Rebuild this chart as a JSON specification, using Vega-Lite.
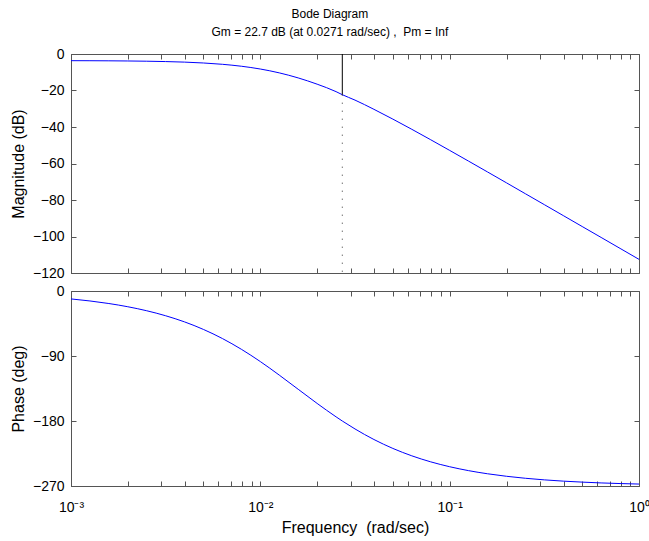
{
  "$schema": "https://vega.github.io/schema/vega-lite/v6.json",
  "background": "white",
  "padding": {"left": 9, "top": 7, "right": 5, "bottom": 5},
  "title": {
    "text": "Bode Diagram",
    "subtitle": "Gm = 22.7 dB (at 0.0271 rad/sec) ,\u00a0 Pm = Inf",
    "font": "Liberation Sans", "subtitleFont": "Liberation Sans",
    "fontSize": 12, "subtitleFontSize": 12, "fontWeight": "normal",
    "color": "black", "subtitleColor": "black",
    "anchor": "middle", "offset": 8, "subtitlePadding": 6
  },
  "config": {
    "view": {"stroke": "#555555", "strokeWidth": 1},
    "axis": {
      "labelFont": "Liberation Sans", "titleFont": "Liberation Sans",
      "labelFontSize": 14, "titleFontSize": 16, "titleFontWeight": "normal",
      "labelColor": "black", "titleColor": "black",
      "domainColor": "#555555", "tickColor": "#555555",
      "grid": false, "tickSize": -5, "labelFlush": false, "labelOverlap": false, "labelBound": false
    }
  },
  "datasets": {
    "bode": [
      {"w": 0.001, "mag": -3.66, "phase": -10.97},
      {"w": 0.001259, "mag": -3.69, "phase": -13.79},
      {"w": 0.001585, "mag": -3.74, "phase": -17.35},
      {"w": 0.001995, "mag": -3.82, "phase": -21.79},
      {"w": 0.002512, "mag": -3.95, "phase": -27.35},
      {"w": 0.003162, "mag": -4.15, "phase": -34.27},
      {"w": 0.003981, "mag": -4.45, "phase": -42.81},
      {"w": 0.005012, "mag": -4.93, "phase": -53.27},
      {"w": 0.00631, "mag": -5.65, "phase": -65.87},
      {"w": 0.007943, "mag": -6.71, "phase": -80.72},
      {"w": 0.01, "mag": -8.23, "phase": -97.72},
      {"w": 0.012589, "mag": -10.34, "phase": -116.44},
      {"w": 0.015849, "mag": -13.1, "phase": -136.08},
      {"w": 0.019953, "mag": -16.54, "phase": -155.67},
      {"w": 0.025119, "mag": -20.63, "phase": -174.24},
      {"w": 0.0271, "mag": -22.3, "phase": -180.0},
      {"w": 0.031623, "mag": -25.26, "phase": -191.01},
      {"w": 0.039811, "mag": -30.31, "phase": -205.62},
      {"w": 0.050119, "mag": -35.68, "phase": -217.98},
      {"w": 0.063096, "mag": -41.26, "phase": -228.21},
      {"w": 0.079433, "mag": -46.99, "phase": -236.56},
      {"w": 0.1, "mag": -52.82, "phase": -243.31},
      {"w": 0.125893, "mag": -58.71, "phase": -248.74},
      {"w": 0.158489, "mag": -64.64, "phase": -253.08},
      {"w": 0.199526, "mag": -70.59, "phase": -256.54},
      {"w": 0.251189, "mag": -76.57, "phase": -259.3},
      {"w": 0.316228, "mag": -82.55, "phase": -261.5},
      {"w": 0.398107, "mag": -88.54, "phase": -263.25},
      {"w": 0.501187, "mag": -94.53, "phase": -264.63},
      {"w": 0.630957, "mag": -100.52, "phase": -265.74},
      {"w": 0.794328, "mag": -106.52, "phase": -266.61},
      {"w": 1.0, "mag": -112.52, "phase": -267.31}
    ],
    "margin": [
      {"w": 0.0271, "y1": 0, "y2": -22.3, "style": "solid"},
      {"w": 0.0271, "y1": -22.3, "y2": -120, "style": "dotted"}
    ]
  },
  "spacing": 2,
  "vconcat": [
    {
      "width": 568, "height": 219,
      "layer": [
        {
          "data": {"name": "bode"},
          "mark": {"type": "line", "color": "#0000ff", "strokeWidth": 1, "interpolate": "monotone", "clip": true},
          "encoding": {
            "x": {"field": "w", "type": "quantitative",
              "scale": {"type": "log", "domain": [0.001, 1], "nice": false},
              "axis": {"orient": "bottom", "title": null, "labels": false, "minExtent": 0, "maxExtent": 0,
                "values": [0.001,0.002,0.003,0.004,0.005,0.006,0.007,0.008,0.009,0.01,0.02,0.03,0.04,0.05,0.06,0.07,0.08,0.09,0.1,0.2,0.3,0.4,0.5,0.6,0.7,0.8,0.9,1]}},
            "y": {"field": "mag", "type": "quantitative",
              "scale": {"domain": [-120, 0], "nice": false, "zero": false},
              "axis": {"orient": "left", "title": "Magnitude (dB)", "labelPadding": 12, "titlePadding": 6, "values": [0,-20,-40,-60,-80,-100,-120]}}
          }
        },
        {
          "data": {"name": "bode"},
          "mark": {"type": "line", "strokeOpacity": 0},
          "encoding": {
            "x": {"field": "w", "type": "quantitative",
              "scale": {"type": "log", "domain": [0.001, 1], "nice": false},
              "axis": {"orient": "top", "title": null, "labels": false, "domain": false, "minExtent": 0, "maxExtent": 0,
                "values": [0.001,0.002,0.003,0.004,0.005,0.006,0.007,0.008,0.009,0.01,0.02,0.03,0.04,0.05,0.06,0.07,0.08,0.09,0.1,0.2,0.3,0.4,0.5,0.6,0.7,0.8,0.9,1]}},
            "y": {"field": "mag", "type": "quantitative",
              "scale": {"domain": [-120, 0], "nice": false, "zero": false},
              "axis": {"orient": "right", "title": null, "labels": false, "domain": false, "minExtent": 0, "maxExtent": 0, "values": [0,-20,-40,-60,-80,-100,-120]}}
          }
        },
        {
          "data": {"name": "margin"},
          "transform": [{"filter": "datum.style == 'solid'"}],
          "mark": {"type": "rule", "color": "black", "strokeWidth": 1},
          "encoding": {
            "x": {"field": "w", "type": "quantitative", "axis": null},
            "y": {"field": "y1", "type": "quantitative", "axis": null},
            "y2": {"field": "y2"}
          }
        },
        {
          "data": {"name": "margin"},
          "transform": [{"filter": "datum.style == 'dotted'"}],
          "mark": {"type": "rule", "color": "#333333", "strokeWidth": 1, "strokeDash": [1, 7]},
          "encoding": {
            "x": {"field": "w", "type": "quantitative", "axis": null},
            "y": {"field": "y1", "type": "quantitative", "axis": null},
            "y2": {"field": "y2"}
          }
        }
      ],
      "resolve": {"axis": {"x": "independent", "y": "independent"}}
    },
    {
      "width": 568, "height": 195,
      "layer": [
        {
          "data": {"name": "bode"},
          "mark": {"type": "line", "color": "#0000ff", "strokeWidth": 1, "interpolate": "monotone", "clip": true},
          "encoding": {
            "x": {"field": "w", "type": "quantitative",
              "scale": {"type": "log", "domain": [0.001, 1], "nice": false},
              "axis": {"orient": "bottom", "title": "Frequency\u00a0 (rad/sec)", "titlePadding": 5,
                "labelExpr": "datum.value == 0.001 ? '10⁻³' : datum.value == 0.01 ? '10⁻²' : datum.value == 0.1 ? '10⁻¹' : datum.value == 1 ? '10⁰' : ''",
                "labelPadding": 19,
                "values": [0.001,0.002,0.003,0.004,0.005,0.006,0.007,0.008,0.009,0.01,0.02,0.03,0.04,0.05,0.06,0.07,0.08,0.09,0.1,0.2,0.3,0.4,0.5,0.6,0.7,0.8,0.9,1]}},
            "y": {"field": "phase", "type": "quantitative",
              "scale": {"domain": [-270, 0], "nice": false, "zero": false},
              "axis": {"orient": "left", "title": "Phase (deg)", "labelPadding": 12, "titlePadding": 6, "values": [0,-90,-180,-270]}}
          }
        },
        {
          "data": {"name": "bode"},
          "mark": {"type": "line", "strokeOpacity": 0},
          "encoding": {
            "x": {"field": "w", "type": "quantitative",
              "scale": {"type": "log", "domain": [0.001, 1], "nice": false},
              "axis": {"orient": "top", "title": null, "labels": false, "domain": false, "minExtent": 0, "maxExtent": 0,
                "values": [0.001,0.002,0.003,0.004,0.005,0.006,0.007,0.008,0.009,0.01,0.02,0.03,0.04,0.05,0.06,0.07,0.08,0.09,0.1,0.2,0.3,0.4,0.5,0.6,0.7,0.8,0.9,1]}},
            "y": {"field": "phase", "type": "quantitative",
              "scale": {"domain": [-270, 0], "nice": false, "zero": false},
              "axis": {"orient": "right", "title": null, "labels": false, "domain": false, "minExtent": 0, "maxExtent": 0, "values": [0,-90,-180,-270]}}
          }
        }
      ],
      "resolve": {"axis": {"x": "independent", "y": "independent"}}
    }
  ]
}
